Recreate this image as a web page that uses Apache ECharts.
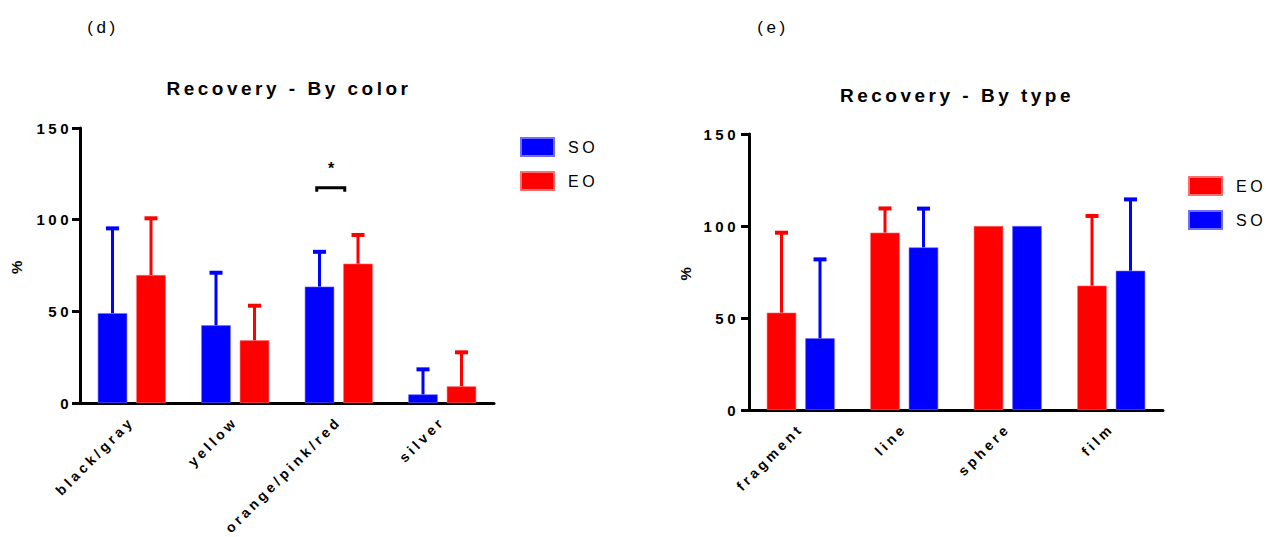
<!DOCTYPE html>
<html>
<head>
<meta charset="utf-8">
<title>Recovery</title>
<script src="https://cdn.jsdelivr.net/npm/echarts@6/dist/echarts.min.js"></script>
<style>
  html, body { margin: 0; padding: 0; background: #fff; }
  #main { width: 1266px; height: 537px; }
  /* the original figure has widely tracked lettering everywhere */
  #main text { letter-spacing: 3.5px; }
</style>
</head>
<body>
<div id="main"></div>
<script type="text/javascript">
// (d) Recovery by color : mean and upper end of the SD bar
var colorCats = ['black/gray', 'yellow', 'orange/pink/red', 'silver'];
var colorSO = [49, 42.4, 63.5, 4.7];
var colorSOTop = [95.8, 71.6, 83, 18.9];
var colorEO = [69.8, 34.2, 76, 9.1];
var colorEOTop = [101.3, 53.6, 92.2, 28.2];

// significance bracket in (d)
var sigCat = 2;
var sigLevel = 117.4;
var sigStarLevel = 128;
var sigText = '*';

// (e) Recovery by type
var typeCats = ['fragment', 'line', 'sphere', 'film'];
var typeEO = [52.9, 96.4, 100, 67.6];
var typeEOTop = [96.9, 110.1, 100, 106];
var typeSO = [39, 88.4, 100, 75.7];
var typeSOTop = [82.4, 110, 100, 115];

var yMin = 0, yMax = 150, yStep = 50;

var BLUE = '#0000ff', RED = '#ff0000';
var BAR_W = 29.5, BAR_GAP = 9;
var FONT = 'Arial, "Liberation Sans", sans-serif';

var myChart = echarts.init(document.getElementById('main'), null, {renderer: 'svg'});

function barSeries(name, values, color, idx) {
    return {
        type: 'bar', name: name, xAxisIndex: idx, yAxisIndex: idx,
        data: values, barWidth: BAR_W, barGap: (BAR_GAP / BAR_W * 100) + '%',
        itemStyle: {color: color, borderColor: color === RED ? '#ff6f6f' : '#6f6fff', borderWidth: 0.6},
        emphasis: {disabled: true}
    };
}

// SD whiskers drawn on top of the bars (side -1 = left bar, +1 = right bar)
function errorSeries(name, means, tops, side, color, idx) {
    return {
        type: 'custom', name: name, xAxisIndex: idx, yAxisIndex: idx, z: 3,
        data: means.map(function (m, i) { return [i, m, tops[i]]; }),
        renderItem: function (params, api) {
            if (api.value(2) <= api.value(1)) return null;
            var base = api.coord([api.value(0), api.value(1)]);
            var top = api.coord([api.value(0), api.value(2)]);
            var x = base[0] + side * (BAR_W + BAR_GAP) / 2;
            return {
                type: 'group',
                children: [
                    {type: 'line', shape: {x1: x, y1: base[1], x2: x, y2: top[1]},
                     style: {stroke: color, lineWidth: 3}},
                    {type: 'line', shape: {x1: x - 6.5, y1: top[1] + 1, x2: x + 6.5, y2: top[1] + 1},
                     style: {stroke: color, lineWidth: 4}}
                ]
            };
        }
    };
}

function xAxisOpt(cats, idx) {
    return {
        type: 'category', gridIndex: idx, data: cats,
        axisLine: {lineStyle: {color: '#000', width: 3}},
        axisTick: {alignWithLabel: true, length: 7, lineStyle: {color: '#000', width: 3}},
        axisLabel: {rotate: 45, interval: 0, margin: 16, color: '#000',
                    fontFamily: FONT, fontWeight: 'bold', fontSize: 14}
    };
}

function yAxisOpt(idx, margin) {
    return {
        type: 'value', gridIndex: idx, min: yMin, max: yMax, interval: yStep,
        name: '%', nameLocation: 'middle', nameGap: 56, nameRotate: 90,
        nameTextStyle: {color: '#000', fontFamily: FONT, fontWeight: 'bold', fontSize: 15},
        axisLine: {show: true, lineStyle: {color: '#000', width: 3}},
        axisTick: {show: true, length: 8, lineStyle: {color: '#000', width: 3}},
        axisLabel: {margin: margin, color: '#000', fontFamily: FONT, fontWeight: 'bold', fontSize: 15},
        splitLine: {show: false}
    };
}

function legendOpt(names, left, top) {
    return {
        data: names, left: left, top: top, orient: 'vertical', padding: 0,
        icon: 'rect', itemWidth: 33, itemHeight: 18, itemGap: 14,
        textStyle: {color: '#000', fontFamily: FONT, fontSize: 16, padding: [0, 0, 0, 9]}
    };
}

function titleText(text, x, y, size, bold) {
    return {
        type: 'text', x: x, y: y,
        style: {text: text, fill: '#000', align: 'center', verticalAlign: 'middle',
                font: (bold ? 'bold ' : '') + size + 'px ' + FONT}
    };
}

var option = {
    animation: false,
    grid: [
        {left: 80, top: 128, width: 414, height: 275, outerBoundsMode: 'none'},
        {left: 749, top: 134, width: 414, height: 276, outerBoundsMode: 'none'}
    ],
    xAxis: [xAxisOpt(colorCats, 0), xAxisOpt(typeCats, 1)],
    yAxis: [yAxisOpt(0, 8), yAxisOpt(1, 10)],
    legend: [legendOpt(['SO', 'EO'], 520, 137), legendOpt(['EO', 'SO'], 1188, 176)],
    graphic: [
        titleText('(d)', 103, 27, 17, false),
        titleText('(e)', 773, 27, 17, false),
        titleText('Recovery - By color', 289, 88, 19, true),
        titleText('Recovery - By type', 957, 95, 19, true)
    ],
    series: [
        barSeries('SO', colorSO, BLUE, 0),
        barSeries('EO', colorEO, RED, 0),
        errorSeries('SO', colorSO, colorSOTop, -1, BLUE, 0),
        errorSeries('EO', colorEO, colorEOTop, 1, RED, 0),
        {
            type: 'custom', xAxisIndex: 0, yAxisIndex: 0, z: 3, silent: true,
            data: [[sigCat, sigLevel, sigStarLevel]],
            renderItem: function (params, api) {
                var p = api.coord([api.value(0), api.value(1)]);
                var s = api.coord([api.value(0), api.value(2)]);
                return {
                    type: 'group',
                    children: [
                        {type: 'polyline',
                         shape: {points: [[p[0] - 22, p[1] + 4], [p[0] - 22, p[1]], [p[0] + 6, p[1]], [p[0] + 6, p[1] + 4]]},
                         style: {stroke: '#000', lineWidth: 3, fill: null}},
                        {type: 'text', x: p[0] - 6, y: s[1],
                         style: {text: sigText, fill: '#000', align: 'center', verticalAlign: 'middle',
                                 font: 'bold 16px ' + FONT}}
                    ]
                };
            }
        },
        barSeries('EO', typeEO, RED, 1),
        barSeries('SO', typeSO, BLUE, 1),
        errorSeries('EO', typeEO, typeEOTop, -1, RED, 1),
        errorSeries('SO', typeSO, typeSOTop, 1, BLUE, 1)
    ]
};

myChart.setOption(option);
</script>
</body>
</html>
